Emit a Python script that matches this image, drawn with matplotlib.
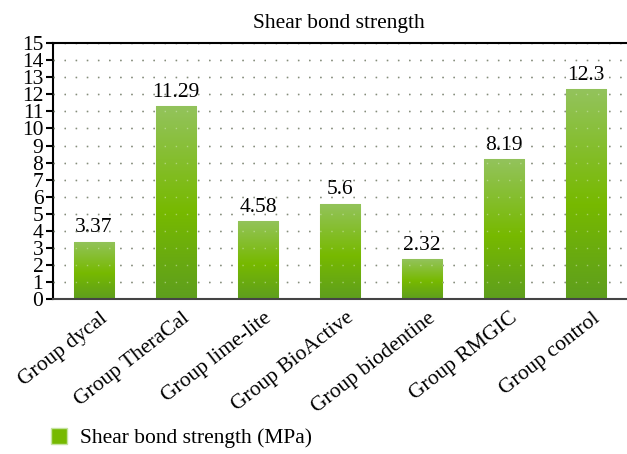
import numpy as np
import matplotlib
matplotlib.use("Agg")
from matplotlib import pyplot as plt
from matplotlib.colors import LinearSegmentedColormap
from matplotlib.patches import Patch
from matplotlib.transforms import ScaledTranslation

groups = ["Group dycal", "Group TheraCal", "Group lime-lite", "Group BioActive",
          "Group biodentine", "Group RMGIC", "Group control"]
strength = [3.37, 11.29, 4.58, 5.6, 2.32, 8.19, 12.3]
value_labels = ["3.37", "11.29", "4.58", "5.6", "2.32", "8.19", "12.3"]
yticks = list(range(0, 16))

plt.rcParams['font.family'] = ['Liberation Serif', 'DejaVu Serif']

fig = plt.figure(figsize=(6.27, 4.54), dpi=100)
ax = fig.add_axes([0.0845, 0.3414, 0.9155, 0.5634])

x = np.arange(len(groups))
bars = ax.bar(x, strength, width=0.49, color='#76b900', edgecolor='#c5e3a0',
              linewidth=0.8, zorder=2)

# vertical gradient inside each bar: dark bottom, bright middle, light top
cmap = LinearSegmentedColormap.from_list(
    "grn", [(0.0, '#5e9e1e'), (0.45, '#77b900'), (1.0, '#93c35c')])
grad = np.linspace(0, 1, 256).reshape(-1, 1)
for b in bars:
    x0, y0 = b.get_x(), b.get_y()
    im = ax.imshow(grad, cmap=cmap, origin='lower', aspect='auto',
                   extent=[x0, x0 + b.get_width(), y0, y0 + b.get_height()],
                   zorder=2.5)
    im.set_clip_path(b)

for xi, v, lab in zip(x, strength, value_labels):
    ax.annotate(lab, (xi, v), xytext=(0, 3), textcoords='offset points',
                ha='center', va='bottom', fontsize=15.5)

ax.set_xlim(-0.5, 6.5)
ax.set_ylim(0, 15)
ax.set_yticks(yticks)
ax.set_yticklabels([str(t) for t in yticks], fontsize=15.5)
ax.tick_params(axis='y', direction='out', length=5, width=1.5, pad=2)
ax.set_xticks(x)
ax.set_xticklabels(groups, rotation=38, ha='right', rotation_mode='anchor',
                   fontsize=15.5)
ax.tick_params(axis='x', length=0, pad=7)
shift = ScaledTranslation(4 / 72, 0, fig.dpi_scale_trans)
for lbl in ax.get_xticklabels():
    lbl.set_transform(lbl.get_transform() + shift)

ax.yaxis.grid(True, linestyle=(0, (1, 7)), color='#333333', linewidth=1.0, zorder=1)
ax.set_axisbelow(True)
for y in yticks[1:-1]:
    ax.axhline(y, color='#d8ecc0', linestyle=(0, (1, 7)), linewidth=1.0,
               alpha=0.5, zorder=3)

ax.spines['right'].set_visible(False)
ax.spines['top'].set_linewidth(1.5)
ax.spines['left'].set_linewidth(1.5)
ax.spines['bottom'].set_color('#444444')
ax.spines['bottom'].set_linewidth(1.5)

fig.suptitle("Shear bond strength", x=0.54, y=0.97, fontsize=15.5)

fig.legend(handles=[Patch(facecolor='#76b900', edgecolor='#c5e3a0')],
           labels=["Shear bond strength (MPa)"], loc='lower left',
           bbox_to_anchor=(0.05, -0.03), frameon=False, fontsize=15.5,
           handlelength=0.75, handleheight=0.75, handletextpad=0.6)

fig.savefig("out.png", dpi=100)
